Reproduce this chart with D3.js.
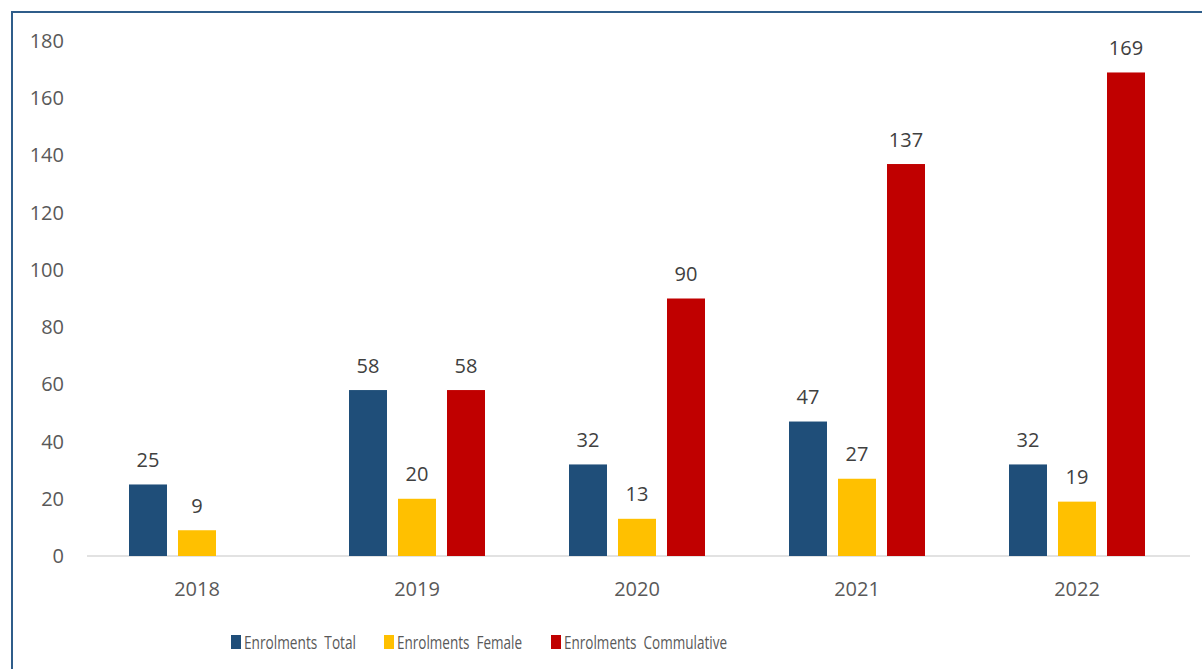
<!DOCTYPE html>
<html><head><meta charset="utf-8">
<script src="https://cdn.jsdelivr.net/npm/d3@7"></script>
<style>body{margin:0;background:#fff}svg{display:block}</style>
</head><body>
<script>
const years = ["2018","2019","2020","2021","2022"];
const seriesNames = ["Enrolments  Total","Enrolments  Female","Enrolments  Commulative"];
const totalValues = [25,58,32,47,32];
const femaleValues = [9,20,13,27,19];
const cumulativeValues = [null,58,90,137,169];
const yTicks = [0,20,40,60,80,100,120,140,160,180];
const colors = ["#1F4E79","#FFC000","#C00000"];

const W=1202,H=669;
const svg=d3.select("body").append("svg").attr("width",W).attr("height",H);
svg.append("rect").attr("x",12).attr("y",12).attr("width",W+10).attr("height",H+10)
  .attr("fill","none").attr("stroke","#2F5D8A").attr("stroke-width",2);

const x=d3.scaleBand().domain(years).range([87,1187]);
const y=d3.scaleLinear().domain([0,180]).range([556,41]);
const series=[totalValues,femaleValues,cumulativeValues];
const bw=38, gap=11;
const font="'Open Sans', sans-serif";
const fs=20;

svg.append("g").selectAll("text").data(yTicks).join("text")
  .attr("x",64).attr("y",d=>y(d)).attr("dy","0.35em").attr("text-anchor","end")
  .attr("font-family",font).attr("font-size",fs).attr("fill","#595959").text(d=>d);

svg.append("line").attr("x1",87).attr("x2",1190).attr("y1",y(0)).attr("y2",y(0))
  .attr("stroke","#D9D9D9").attr("stroke-width",1.5);

svg.append("g").selectAll("text").data(years).join("text")
  .attr("x",d=>x(d)+x.bandwidth()/2).attr("y",589).attr("dy","0.35em").attr("text-anchor","middle")
  .attr("font-family",font).attr("font-size",fs).attr("fill","#595959").text(d=>d);

series.forEach((vals,si)=>{
  const off=(si-1)*(bw+gap)-bw/2;
  const data=years.map((yr,i)=>({yr,v:vals[i]})).filter(d=>d.v!=null);
  svg.append("g").selectAll("rect").data(data).join("rect")
    .attr("x",d=>x(d.yr)+x.bandwidth()/2+off).attr("width",bw)
    .attr("y",d=>y(d.v)).attr("height",d=>y(0)-y(d.v)).attr("fill",colors[si]);
  svg.append("g").selectAll("text").data(data).join("text")
    .attr("x",d=>x(d.yr)+x.bandwidth()/2+off+bw/2).attr("y",d=>y(d.v)-24.5).attr("dy","0.35em")
    .attr("text-anchor","middle").attr("font-family",font).attr("font-size",fs)
    .attr("fill","#404040").text(d=>d.v);
});

const legX=[231,384,551];
const legW=[112,125,163];
const lg=svg.append("g").selectAll("g").data(seriesNames).join("g")
  .attr("transform",(d,i)=>`translate(${legX[i]},635)`);
lg.append("rect").attr("width",10).attr("height",14).attr("fill",(d,i)=>colors[i]);
lg.append("text").attr("x",13).attr("y",7).attr("dy","0.35em")
  .attr("font-family","'Liberation Sans Narrow', 'Open Sans', sans-serif").attr("font-size",19).attr("fill","#595959")
  .attr("textLength",(d,i)=>legW[i]).attr("lengthAdjust","spacingAndGlyphs")
  .style("white-space","pre").text(d=>d);
</script>
</body></html>
